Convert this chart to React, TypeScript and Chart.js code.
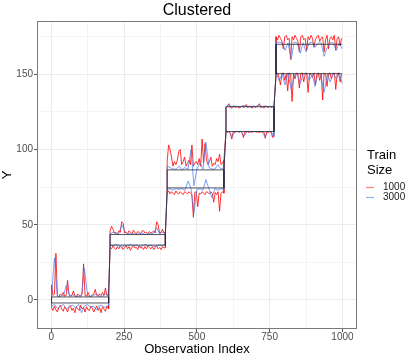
import React, { useEffect, useRef } from "react";
import { Chart, registerables } from "chart.js";

Chart.register(...registerables);

const FONT = '"Liberation Sans", Arial, Helvetica, sans-serif';

// ---- Tick definitions ----
const xMajorTicks = [0, 250, 500, 750, 1000];
const xMinorTicks = [125, 375, 625, 875];
const yMajorTicks = [0, 50, 100, 150];
const yMinorTicks = [25, 75, 125, 175];

// ---- Observation indices (train size 1000, red) ----
const rSeg1X = [1, 6, 11, 16, 21, 26, 31, 36, 41, 46, 51, 56, 61, 66, 71, 76, 81, 86, 91, 96, 101, 106, 111, 116, 121, 126, 131, 136, 141, 146, 151, 156, 161, 166, 171, 176, 181, 186, 191, 197];
const rSeg2X = [202, 207, 212, 217, 222, 227, 232, 237, 242, 247, 252, 257, 262, 267, 272, 277, 282, 287, 292, 297, 302, 307, 312, 317, 322, 327, 332, 337, 342, 347, 352, 357, 362, 367, 372, 377, 382, 387, 392];
const rSeg3X = [398, 403, 408, 413, 418, 423, 428, 433, 438, 443, 448, 453, 458, 463, 468, 473, 478, 483, 488, 493, 498, 503, 508, 513, 518, 523, 528, 533, 538, 543, 548, 553, 558, 563, 568, 573, 578, 583, 588, 593];
const rSeg4X = [600, 605, 610, 615, 620, 625, 630, 635, 640, 645, 650, 655, 660, 665, 670, 675, 680, 685, 690, 695, 700, 705, 710, 715, 720, 725, 730, 735, 740, 745, 750, 755, 760, 765];
const rSeg5X = [772, 777, 782, 787, 792, 797, 802, 807, 812, 817, 822, 827, 832, 837, 842, 847, 852, 857, 862, 867, 872, 877, 882, 887, 892, 897, 902, 907, 912, 917, 922, 927, 932, 937, 942, 947, 952, 957, 962, 967, 972, 977, 982, 987, 992, 997];

// ---- Observation indices (train size 3000, blue) ----
const bSeg1X = [1, 11, 21, 32, 42, 52, 63, 73, 83, 94, 104, 114, 125, 135, 145, 156, 166, 176, 187, 197];
const bSeg2X = [202, 212, 222, 232, 242, 252, 262, 272, 282, 292, 302, 312, 322, 332, 342, 352, 362, 372, 382, 392];
const bSeg3X = [398, 408, 418, 429, 439, 449, 459, 470, 480, 490, 500, 511, 521, 531, 542, 552, 562, 572, 583, 593];
const bSeg4X = [600, 610, 621, 631, 641, 652, 662, 672, 683, 693, 703, 714, 724, 734, 745, 755, 765];
const bSeg5X = [772, 782, 793, 803, 813, 824, 834, 844, 855, 865, 875, 886, 896, 906, 917, 927, 937, 948, 958, 968, 979, 989, 999];

// ---- Train size 1000 (red) ----
const red1Up = [10, 3, 4, 31, 3, 2, 4, 3, 5, 2.5, 3, 13, 4, 2.5, 3, 6, 3, 2, 4, 3, 2.5, 4, 24, 3, 2.5, 5, 3, 2, 3.5, 4, 7, 3, 2.5, 4, 3, 5, 3, 8, 3, 4];
const red1Lo = [-5, -7, -4, -6.5, -8, -5, -3.5, -6, -7.5, -4.5, -6, -8, -5, -4, -7, -5.5, -8.5, -4.5, -6, -7, -3.5, -6, -5, -8, -4.5, -6.5, -7, -4, -5.5, -8, -6, -4, -7, -5, -8.5, -4.5, -6, -7.5, -4, -6];
const red2Up = [46, 49, 47, 44.5, 45, 44, 46, 45, 52, 51, 44.5, 45, 44, 46, 45, 44, 46.5, 45, 44, 45.5, 45, 44, 46, 46, 44.5, 45, 44, 45.5, 44.5, 45, 46, 44.5, 52, 50, 44.5, 45, 47, 44.5, 45.5];
const red2Lo = [35, 34, 36, 34.5, 33.5, 35.5, 34, 36, 35, 33.5, 35, 36, 34, 35.5, 33, 35, 36, 34.5, 35, 33.5, 36, 34.5, 35, 33.5, 35.5, 34, 36, 35, 34, 35.5, 33.5, 35, 36, 34, 35, 33.5, 35.5, 34.5, 35];
const red3Up = [92, 103, 100, 95, 89, 92, 90, 93, 99, 100, 90, 92, 95, 89, 91, 93, 90, 103, 89, 91, 92, 90, 94, 89, 107, 91, 104, 93, 90, 92, 95, 89, 91, 90, 94, 92, 97, 90, 91, 93];
const red3Lo = [71, 72.5, 70.5, 72, 71, 70, 72.5, 71, 70.5, 72, 71, 70, 72, 71.5, 70.5, 72, 71, 70, 55, 71.5, 72, 62, 71, 70.5, 72, 71, 70, 72, 71.5, 70.5, 72, 71, 65, 71.5, 70, 72, 59, 71, 72, 71];
const red4Up = [128, 129, 130.5, 128, 127.5, 129, 128.5, 128, 129, 127.5, 128.5, 129, 128, 128.5, 130, 128, 129, 128.5, 127.5, 129, 128, 128.5, 129, 130.5, 128, 128.5, 127.5, 129, 128.5, 128, 129, 128, 128.5, 129];
const red4Lo = [112, 111.5, 112, 111, 107, 112, 111.5, 112, 112, 111.5, 112, 111.5, 108, 112, 111.5, 112, 111, 112, 111.5, 112, 112, 111.5, 112, 111, 112, 111.5, 112, 107.5, 112, 111.5, 112, 111.5, 108, 112];
const red5Up = [175, 173, 176, 174, 172, 167, 175, 176, 173, 174, 160, 175, 173, 176, 174, 172, 165, 175, 176, 173, 174, 166, 175, 173, 176, 174, 168, 173, 175, 176, 172, 174, 175, 165, 173, 176, 167, 174, 175, 173, 176, 166, 174, 175, 169, 174];
const red5Lo = [150, 151, 148, 143, 150.5, 151, 146, 150, 139, 151, 150, 132, 150.5, 147, 151, 150, 141, 150.5, 151, 145, 150, 151, 138, 150.5, 150, 148, 151, 143, 150, 151, 146, 150.5, 133, 151, 150, 142, 150.5, 151, 147, 150, 151, 140, 150.5, 151, 145, 150];

// ---- Train size 3000 (blue) ----
const blue1Up = [3, 28, 2.5, 2.5, 3, 10, 2.5, 3.5, 2.5, 2.5, 3, 21, 2.5, 2.5, 3, 4, 2.5, 2.5, 4, 2.5];
const blue1Lo = [-4, -3, -5.5, -4, -3, -6, -4, -3.5, -5, -3, -8.5, -4, -3, -5, -4, -6.5, -3.5, -4, -5, -3.5];
const blue2Up = [44, 45, 44, 44, 50, 46, 44, 44, 44.5, 43.5, 44, 44.5, 43.5, 44, 44, 44.5, 48, 44, 45, 44];
const blue2Lo = [36.5, 36, 37, 36, 35, 36.5, 36, 37, 36, 36.5, 35.5, 36, 37, 36, 36.5, 35.5, 36, 36.5, 36, 37];
const blue3Up = [89, 88, 87, 87, 89, 86.5, 88, 87, 100, 76, 87, 91, 87, 105, 88, 87, 87, 90, 87, 88];
const blue3Lo = [73.5, 74, 73, 74, 73.5, 74, 73, 79, 74, 58, 73.5, 74, 73, 80, 73.5, 68, 74, 73, 74, 73.5];
const blue4Up = [128.5, 129.5, 128.5, 129, 128.5, 128.5, 129.5, 128.5, 128.5, 129, 128.5, 130, 128.5, 129, 128.5, 128.5, 129];
const blue4Lo = [112, 112, 108.5, 112, 112, 112, 109, 112, 112, 112, 112, 112, 112, 108.5, 112, 112, 108.5];
const blue5Up = [171, 171.5, 171, 166, 171, 160, 171.5, 171, 164, 171, 165, 171, 171.5, 168, 171, 171, 162, 168, 171, 171, 166, 171, 167];
const blue5Lo = [151, 146, 150, 143, 151, 140, 149, 151, 144, 150, 151, 146, 150, 142, 151, 148, 138, 150, 145, 151, 147, 151, 144];

// ---- True cluster levels per segment ----
const truthUp = [2, 43.5, 86.5, 128.5, 170];
const truthLo = [-2, 36.5, 74.5, 112, 150.5];

// ---- Legend ----
const legendTitle = ["Train", "Size"];
const seriesNames = ["1000", "3000"];

const redXs = [rSeg1X, rSeg2X, rSeg3X, rSeg4X, rSeg5X];
const blueXs = [bSeg1X, bSeg2X, bSeg3X, bSeg4X, bSeg5X];
const redUps = [red1Up, red2Up, red3Up, red4Up, red5Up];
const redLos = [red1Lo, red2Lo, red3Lo, red4Lo, red5Lo];
const blueUps = [blue1Up, blue2Up, blue3Up, blue4Up, blue5Up];
const blueLos = [blue1Lo, blue2Lo, blue3Lo, blue4Lo, blue5Lo];

const RED = "rgba(255,0,0,0.8)";
const BLUE = "rgba(70,125,240,0.72)";
const DARK = "rgba(40,40,50,0.8)";

type P = { x: number; y: number };

function boxPath(xs: number[], up: number[], lo: number[], closeRight: boolean): P[] {
  const pts: P[] = [];
  if (closeRight) {
    for (let i = 0; i < xs.length; i++) pts.push({ x: xs[i], y: up[i] });
    for (let i = xs.length - 1; i >= 0; i--) pts.push({ x: xs[i], y: lo[i] });
    pts.push({ x: xs[0], y: up[0] });
  } else {
    for (let i = xs.length - 1; i >= 0; i--) pts.push({ x: xs[i], y: up[i] });
    for (let i = 0; i < xs.length; i++) pts.push({ x: xs[i], y: lo[i] });
  }
  return pts;
}

function seriesDatasets(xsList: number[][], ups: number[][], los: number[][], color: string, order: number) {
  const ds: any[] = [];
  const n = xsList.length;
  for (let k = 0; k < n; k++) {
    ds.push({ data: boxPath(xsList[k], ups[k], los[k], k < n - 1), borderColor: color, order });
    if (k < n - 1) {
      const xs = xsList[k];
      ds.push({
        data: [
          { x: xs[xs.length - 1], y: ups[k][ups[k].length - 1] },
          { x: xsList[k + 1][0], y: los[k + 1][0] },
        ],
        borderColor: color,
        order,
      });
    }
  }
  return ds;
}

function truthDatasets() {
  const ds: any[] = [];
  const n = blueXs.length;
  for (let k = 0; k < n; k++) {
    const xs = blueXs[k];
    const segX = [xs[0], xs[xs.length - 1]];
    const up = [truthUp[k], truthUp[k]];
    const lo = [truthLo[k], truthLo[k]];
    ds.push({ data: boxPath(segX, up, lo, k < n - 1), borderColor: DARK, order: 0 });
    if (k < n - 1) {
      ds.push({
        data: [
          { x: segX[1], y: truthUp[k] },
          { x: blueXs[k + 1][0], y: truthLo[k + 1] },
        ],
        borderColor: DARK,
        order: 0,
      });
    }
  }
  return ds;
}

const decorPlugin = {
  id: "decor",
  afterDraw(chart: any) {
    const { ctx, chartArea: a } = chart;
    ctx.save();
    ctx.strokeStyle = "#7a7a7a";
    ctx.lineWidth = 1;
    ctx.strokeRect(a.left + 0.5, a.top + 0.5, a.right - a.left - 1, a.bottom - a.top - 1);

    ctx.fillStyle = "#000";
    ctx.textAlign = "left";
    ctx.textBaseline = "middle";
    ctx.font = `13px ${FONT}`;
    ctx.fillText(legendTitle[0], 367, 155);
    ctx.fillText(legendTitle[1], 367, 170);

    const keyColors = ["rgba(255,0,0,0.5)", "rgba(70,125,240,0.6)"];
    const ys = [187.5, 197.5];
    ctx.font = `10px ${FONT}`;
    for (let i = 0; i < seriesNames.length; i++) {
      ctx.strokeStyle = keyColors[i];
      ctx.lineWidth = 1.2;
      ctx.beginPath();
      ctx.moveTo(366, ys[i]);
      ctx.lineTo(374, ys[i]);
      ctx.stroke();
      ctx.fillStyle = "#1a1a1a";
      ctx.fillText(seriesNames[i], 383, ys[i]);
    }
    ctx.restore();
  },
};

export default function App() {
  const ref = useRef<HTMLCanvasElement>(null);

  useEffect(() => {
    const datasets = [
      ...truthDatasets(),
      ...seriesDatasets(blueXs, blueUps, blueLos, BLUE, 1),
      ...seriesDatasets(redXs, redUps, redLos, RED, 2),
    ].map((d) => ({
      ...d,
      showLine: true,
      fill: false,
      pointRadius: 0,
      borderWidth: 1,
      borderJoinStyle: "round",
      spanGaps: false,
    }));

    const xAll = [...xMajorTicks, ...xMinorTicks].sort((a, b) => a - b);
    const yAll = [...yMajorTicks, ...yMinorTicks].sort((a, b) => a - b);

    const chart = new Chart(ref.current as HTMLCanvasElement, {
      type: "scatter",
      data: { datasets },
      plugins: [decorPlugin],
      options: {
        animation: false,
        responsive: false,
        devicePixelRatio: 1,
        layout: { padding: { left: 0, right: 55, top: 0, bottom: 0 } },
        plugins: {
          legend: { display: false },
          tooltip: { enabled: false },
          title: {
            display: true,
            text: "Clustered",
            fullSize: false,
            color: "#000",
            font: { size: 16, family: FONT, weight: "normal" },
            padding: { top: 0.5, bottom: 1.3 },
          },
        },
        scales: {
          x: {
            type: "linear",
            min: -48.95,
            max: 1049.95,
            afterBuildTicks: (s: any) => {
              s.ticks = xAll.map((v) => ({ value: v }));
            },
            afterFit: (s: any) => {
              s.height = 30;
            },
            ticks: {
              autoSkip: false,
              maxRotation: 0,
              padding: 0,
              color: "#4D4D4D",
              font: { size: 10, family: FONT, lineHeight: 1 },
              callback: (v: any) => (xMajorTicks.includes(v) ? String(v) : ""),
            },
            grid: {
              lineWidth: 1,
              tickLength: 3,
              color: (c: any) => (c.tick && xMajorTicks.includes(c.tick.value) ? "#EBEBEB" : "#F4F4F4"),
              tickColor: (c: any) => (c.tick && xMajorTicks.includes(c.tick.value) ? "#555" : "rgba(0,0,0,0)"),
            },
            border: { display: false },
            title: {
              display: true,
              text: "Observation Index",
              color: "#000",
              font: { size: 13, family: FONT },
              padding: { top: 0, bottom: 2 },
            },
          },
          y: {
            type: "linear",
            min: -19.3,
            max: 185.5,
            afterBuildTicks: (s: any) => {
              s.ticks = yAll.map((v) => ({ value: v }));
            },
            afterFit: (s: any) => {
              s.width = 37;
            },
            ticks: {
              autoSkip: false,
              padding: 1,
              color: "#4D4D4D",
              font: { size: 10, family: FONT },
              callback: (v: any) => (yMajorTicks.includes(v) ? String(v) : ""),
            },
            grid: {
              lineWidth: 1,
              tickLength: 3,
              color: (c: any) => (c.tick && yMajorTicks.includes(c.tick.value) ? "#EBEBEB" : "#F4F4F4"),
              tickColor: (c: any) => (c.tick && yMajorTicks.includes(c.tick.value) ? "#555" : "rgba(0,0,0,0)"),
            },
            border: { display: false },
            title: {
              display: true,
              text: "Y",
              color: "#000",
              font: { size: 13, family: FONT },
              padding: { top: 0, bottom: 0 },
            },
          },
        },
      } as any,
    });
    return () => chart.destroy();
  }, []);

  return (
    <div style={{ position: "fixed", left: 0, top: 0, width: 412, height: 359, background: "#fff" }}>
      <canvas ref={ref} width={412} height={359} style={{ display: "block", width: 412, height: 359 }} />
    </div>
  );
}
